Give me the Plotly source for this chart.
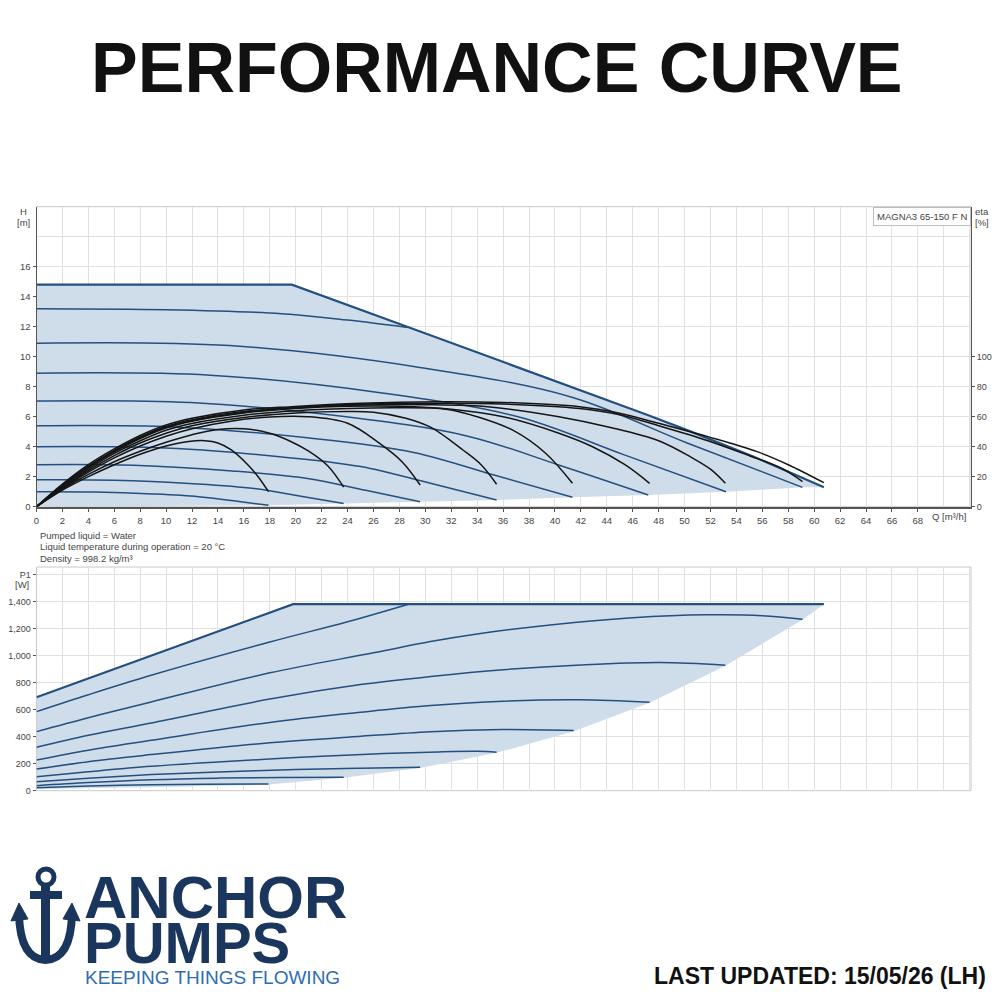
import plotly.graph_objects as go

# ---- data ----
# Q-H speed curves (blue), one list per curve
head_q = [
    [0, 4.5, 9, 12.5, 15.2, 17.9],
    [0, 6.0, 12.1, 16.8, 20.4, 23.7],
    [0, 7.5, 15.1, 20.9, 25.4, 29.6],
    [0, 9, 18, 25, 30.4, 35.5],
    [0, 10.5, 20.9, 29.1, 35.3, 41.35],
    [0, 11.9, 23.9, 33.2, 40.4, 47.2],
    [0, 13.4, 26.8, 37.3, 45.3, 53.2],
    [0, 14.9, 29.7, 41.3, 50.2, 59.1],
    [0, 10, 18.9, 24, 28.6],
]
head_h = [
    [1.0, 0.98, 0.85, 0.67, 0.39, 0.10],
    [1.8, 1.77, 1.53, 1.21, 0.70, 0.22],
    [2.8, 2.76, 2.38, 1.88, 1.09, 0.33],
    [4.0, 3.94, 3.40, 2.68, 1.56, 0.45],
    [5.4, 5.32, 4.59, 3.62, 2.11, 0.63],
    [7.05, 6.94, 5.99, 4.72, 2.75, 0.78],
    [8.9, 8.77, 7.57, 5.96, 3.47, 1.0],
    [10.9, 10.74, 9.27, 7.30, 4.25, 1.29],
    [13.2, 13.13, 12.87, 12.44, 11.95],
]

# max curve (envelope) and lower edge of the operating area
env_q = [0, 19.7, 28.6, 35, 42.8, 47.2, 50, 55.3, 60.75]
env_h = [14.8, 14.8, 12.0, 9.98, 7.52, 6.1, 5.17, 3.35, 1.3]
low_q = [0, 17.9, 23.7, 29.6, 35.5, 41.35, 47.2, 53.2, 59.1, 60.75]
low_h = [0, 0.10, 0.22, 0.33, 0.45, 0.63, 0.78, 1.0, 1.29, 1.3]

# efficiency curves (black), eta in %
eta_q = [
    [0, 2, 4, 6, 8, 10, 11.75, 13, 14, 15, 16.3, 17.1, 17.9],
    [0, 2, 4, 6, 8, 10, 12, 14, 16, 18, 19.5, 21, 22.5, 23.7],
    [0, 2, 4, 6, 8, 10, 12, 15, 18, 20.9, 24, 26.5, 28.2, 29.6],
    [0, 2, 4, 6, 8, 10, 12, 16, 20, 24, 26, 28.5, 30.4, 32.9, 34.3, 35.5],
    [0, 2, 4, 6, 8, 10, 12, 16, 20, 24, 28, 31.6, 34, 36.75, 39.3, 41.35],
    [0, 2, 4, 6, 8, 10, 12, 16, 20, 24, 28, 32, 36, 40.3, 42.9, 45.4, 47.3],
    [0, 2, 4, 6, 8, 10, 12, 16, 20, 25, 30, 35, 40.3, 44.2, 48, 50.5, 52, 53.15],
    [0, 2, 4, 6, 8, 10, 12, 16, 19.65, 25, 31, 36, 41.9, 44.9, 48, 51.8, 55, 57.5, 59.1],
    [0, 2, 4, 6, 8, 10, 12, 16, 19.65, 25, 31, 36, 41.9, 44.9, 48, 51.8, 55.6, 58, 60.75],
]
eta_v = [
    [0, 11, 20, 28, 35, 40.5, 43.5, 44, 42.5, 38, 28, 20, 10],
    [0, 11.5, 21.5, 30, 37, 43, 48, 51.5, 52, 49, 44, 37, 27, 13],
    [0, 12, 23, 32.5, 40.5, 47, 52, 57, 59.8, 60, 55.6, 42, 30, 14.5],
    [0, 12.5, 24, 34, 42.5, 49, 54, 59.5, 62.5, 63.5, 63, 59, 53, 37.8, 28, 15],
    [0, 13, 25, 35.5, 44, 51, 55.5, 61, 64, 65.5, 66, 65, 60, 51, 35.5, 15.6],
    [0, 13.5, 26, 36.5, 45.5, 52.5, 57, 62.5, 65.5, 67, 67, 65, 60, 49, 40, 28, 15.6],
    [0, 14, 26.5, 37, 46, 53, 57.5, 63, 66, 67.8, 68, 66.5, 60, 53, 44, 33, 25, 15.6],
    [0, 14.5, 27, 37.5, 46.5, 53.5, 58, 63.5, 66, 68.3, 69, 68.5, 65.5, 61.5, 54, 44, 34, 25.5, 16.7],
    [0, 15, 28, 38.5, 47.5, 54.5, 59, 64.5, 66.7, 69, 70, 69.5, 66.7, 62.5, 55.6, 46.7, 36.7, 28, 16],
]

# power curves P1 [W]
p1_q = [
    [0, 4, 8.85, 13, 17.9],
    [0, 4, 8.85, 14, 19, 23.7],
    [0, 4, 8.85, 14, 20, 25, 29.6],
    [0, 4, 8.85, 14, 20, 26, 31, 34, 35.5],
    [0, 4, 8.85, 18, 24, 30.4, 36, 41.45],
    [0, 4, 8.85, 18, 25, 30.4, 36, 41.9, 47.3],
    [0, 4, 8.85, 18, 25, 30.4, 36, 42, 48.1, 53.15],
    [0, 4, 8.85, 18, 26, 30.4, 34, 40, 46, 51.7, 56, 59.1],
    [0, 4, 8.85, 18, 24, 28.7],
]
p1_w = [
    [22, 34, 44, 48, 49],
    [37, 60, 81, 93, 98, 99],
    [67, 93, 119, 139, 156, 167, 173],
    [104, 140, 180, 212, 245, 272, 287, 291, 285],
    [160, 215, 267, 355, 395, 437, 452, 445],
    [227, 300, 373, 505, 580, 630, 662, 672, 654],
    [321, 410, 501, 678, 785, 845, 895, 930, 948, 929],
    [437, 540, 657, 872, 1020, 1104, 1160, 1230, 1280, 1301, 1295, 1269],
    [585, 710, 854, 1100, 1250, 1380],
]
p1_env_q = [0, 19.8, 60.75]
p1_env_w = [691, 1380, 1380]
p1_low_q = [0, 8.85, 17.9, 23.7, 29.6, 35.5, 41.45, 47.3, 53.15, 59.1, 60.75]
p1_low_w = [12, 25, 45, 95, 168, 280, 440, 650, 925, 1265, 1380]

h_ticks = list(range(0, 17, 2))
eta_ticks = list(range(0, 101, 20))
q_ticks = list(range(0, 69, 2))
p1_ticks = list(range(0, 1601, 200))
p1_labels = ["0", "200", "400", "600", "800", "1,000", "1,200", "1,400", "P1"]

FILL = "#cfdcea"
BLUE = "#24507f"
BLACK = "#151515"
GRID = "#e1e1e1"
AXIS = "#555555"
NAVY = "#1b365d"
TXT = "#444444"

# the page body keeps an 8px margin, so the figure is 984px and sits at (8, 8)
SIZE = 984


def X(px):
    return (px - 8) / SIZE


def Y(py):
    return 1 - (py - 8) / SIZE


fig = go.Figure()

# operating area fill
fig.add_trace(go.Scatter(x=env_q + low_q[::-1], y=env_h + low_h[::-1], fill="toself",
                         fillcolor=FILL, line=dict(width=0), mode="lines",
                         xaxis="x", yaxis="y", hoverinfo="skip"))
for q, h in zip(head_q, head_h):
    fig.add_trace(go.Scatter(x=q, y=h, mode="lines", line=dict(color=BLUE, width=1.5, shape="spline"),
                             xaxis="x", yaxis="y"))
fig.add_trace(go.Scatter(x=env_q, y=env_h, mode="lines", line=dict(color=BLUE, width=2.2),
                         xaxis="x", yaxis="y"))
for q, e in zip(eta_q, eta_v):
    fig.add_trace(go.Scatter(x=q, y=e, mode="lines", line=dict(color=BLACK, width=1.5, shape="spline"),
                             xaxis="x", yaxis="y2"))

# power chart
fig.add_trace(go.Scatter(x=p1_env_q + p1_low_q[::-1], y=p1_env_w + p1_low_w[::-1], fill="toself",
                         fillcolor=FILL, line=dict(width=0), mode="lines",
                         xaxis="x2", yaxis="y3", hoverinfo="skip"))
for q, w in zip(p1_q, p1_w):
    fig.add_trace(go.Scatter(x=q, y=w, mode="lines", line=dict(color=BLUE, width=1.5, shape="spline"),
                             xaxis="x2", yaxis="y3"))
fig.add_trace(go.Scatter(x=p1_env_q, y=p1_env_w, mode="lines", line=dict(color=BLUE, width=2.2),
                         xaxis="x2", yaxis="y3"))

tickfont = dict(family="Liberation Sans", size=9.5, color=TXT)
smallfont = dict(family="Liberation Sans", size=9, color=TXT)
XDOM = [X(36.5), X(971)]
TOP = [Y(506.7), Y(206.7)]
BOT = [Y(790.7), Y(567)]

fig.update_layout(
    width=SIZE, height=SIZE, showlegend=False,
    margin=dict(l=0, r=0, t=0, b=0, autoexpand=False),
    paper_bgcolor="white", plot_bgcolor="white",
    xaxis=dict(domain=XDOM, range=[0, 72.1], anchor="y", tickvals=q_ticks, ticks="outside",
               ticklen=4, tickcolor=AXIS, showline=True, linecolor=AXIS, linewidth=1.5,
               showgrid=True, gridcolor=GRID, zeroline=False, tickfont=tickfont, automargin=False,
               minor=dict(tickmode="linear", tick0=0, dtick=2, showgrid=True, gridcolor=GRID)),
    yaxis=dict(domain=TOP, range=[0, 20], anchor="x", tickvals=h_ticks, ticks="outside",
               ticklen=3, tickcolor=AXIS, showline=True, linecolor=AXIS, linewidth=1,
               showgrid=True, gridcolor=GRID, zeroline=False, tickfont=tickfont, automargin=False,
               minor=dict(tickmode="linear", tick0=0, dtick=2, showgrid=True, gridcolor=GRID)),
    yaxis2=dict(overlaying="y", side="right", anchor="x", range=[0, 200], tickvals=eta_ticks,
                ticks="outside", ticklen=3, tickcolor=AXIS, showline=True, linecolor=AXIS,
                linewidth=1, showgrid=False, zeroline=False, tickfont=smallfont, automargin=False),
    xaxis2=dict(domain=XDOM, range=[0, 72.1], anchor="y3", tickvals=list(range(0, 73, 2)),
                showticklabels=False, ticks="", showline=False, showgrid=True, gridcolor=GRID,
                zeroline=False, automargin=False),
    yaxis3=dict(domain=BOT, range=[0, 1655], anchor="x2", tickvals=p1_ticks, ticktext=p1_labels,
                ticks="outside", ticklen=3, tickcolor=AXIS, showline=False, showgrid=True,
                gridcolor=GRID, zeroline=False, tickfont=smallfont, automargin=False),
)

# plot frames
for dom in (TOP, BOT):
    fig.add_shape(type="rect", xref="paper", yref="paper", x0=XDOM[0], x1=XDOM[1],
                  y0=dom[0], y1=dom[1], line=dict(color="#c8c8c8", width=1), layer="below")


def ann(text, px, py, size=9.5, color=TXT, xanchor="center", yanchor="middle", **kw):
    fig.add_annotation(text=text, x=X(px), y=Y(py), xref="paper", yref="paper", showarrow=False,
                       font=dict(family="Liberation Sans", size=size, color=color),
                       xanchor=xanchor, yanchor=yanchor, **kw)


ann("<b>PERFORMANCE CURVE</b>", 497, 68, size=70, color="#111111")
ann("H", 23, 211)
ann("[m]", 23, 222)
ann("eta", 982, 211)
ann("[%]", 982, 222)
ann("[W]", 22, 584)
ann("Q [m³/h]", 949, 516)
ann("MAGNA3 65-150 F N", 971, 206.7, xanchor="right", yanchor="top",
    bordercolor="#bdbdbd", borderwidth=1, borderpad=3, bgcolor="white")
ann("Pumped liquid = Water", 38, 535, xanchor="left")
ann("Liquid temperature during operation = 20 °C", 38, 546.5, xanchor="left")
ann("Density = 998.2 kg/m³", 38, 558, xanchor="left")

# logo and footer
ann("<b>ANCHOR</b>", 82, 897, size=60, color=NAVY, xanchor="left")
ann("<b>PUMPS</b>", 82, 942, size=58, color=NAVY, xanchor="left")
ann("KEEPING THINGS FLOWING", 83, 977, size=19, color="#2e6db4", xanchor="left")
ann("<b>LAST UPDATED: 15/05/26 (LH)</b>", 988, 976, size=23, color="#111111", xanchor="right")


def pt(px, py):
    return f"{X(px):.4f},{Y(py):.4f}"


# anchor icon
fig.add_shape(type="circle", xref="paper", yref="paper", x0=X(38), x1=X(54),
              y0=Y(885), y1=Y(869), line=dict(color=NAVY, width=5))
fig.add_shape(type="rect", xref="paper", yref="paper", x0=X(41), x1=X(50),
              y0=Y(958), y1=Y(885), fillcolor=NAVY, line=dict(width=0))
fig.add_shape(type="rect", xref="paper", yref="paper", x0=X(30), x1=X(62),
              y0=Y(899), y1=Y(891), fillcolor=NAVY, line=dict(width=0))
fig.add_shape(type="path", xref="paper", yref="paper",
              path=f"M {pt(19, 914)} Q {pt(20, 959)} {pt(45.5, 960)} Q {pt(71, 959)} {pt(72, 914)}",
              line=dict(color=NAVY, width=8))
fig.add_shape(type="path", xref="paper", yref="paper",
              path=f"M {pt(11, 921)} L {pt(19, 903)} L {pt(28, 919)} Z",
              fillcolor=NAVY, line=dict(color=NAVY, width=1))
fig.add_shape(type="path", xref="paper", yref="paper",
              path=f"M {pt(63, 919)} L {pt(72, 903)} L {pt(80, 921)} Z",
              fillcolor=NAVY, line=dict(color=NAVY, width=1))

fig.write_html("out.html")
